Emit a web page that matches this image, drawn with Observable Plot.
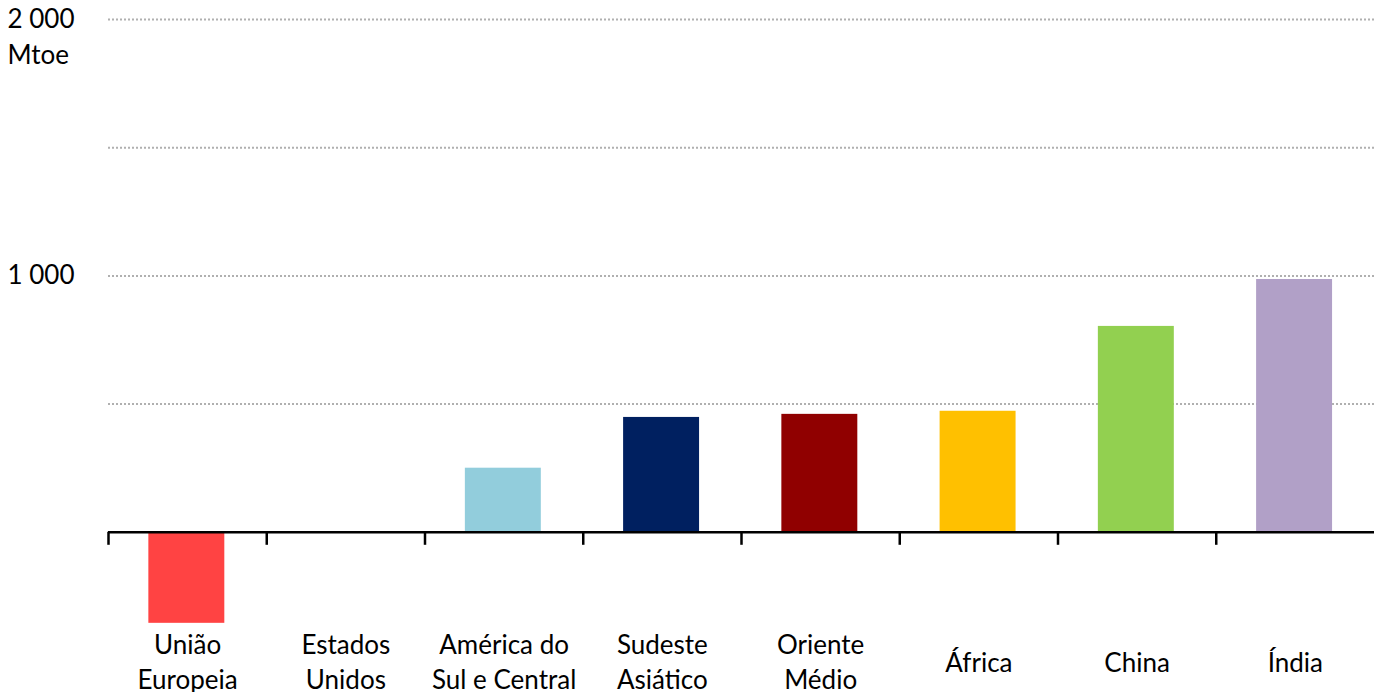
<!DOCTYPE html>
<html>
<head>
<meta charset="utf-8">
<script src="https://cdn.jsdelivr.net/npm/d3@7"></script>
<script src="https://cdn.jsdelivr.net/npm/@observablehq/plot@0.6"></script>
<style>
  html, body { margin: 0; padding: 0; background: #fff; }
  #chart { width: 1374px; height: 692px; }
</style>
</head>
<body>
<div id="chart"></div>
<script>
const categories = ["União\nEuropeia", "Estados\nUnidos", "América do\nSul e Central", "Sudeste\nAsiático", "Oriente\nMédio", "África", "China", "Índia"];
const values = [-355, 0, 250, 448, 460, 472, 803, 986];
const colors = ["#FF4343", "#7F7F7F", "#92CDDC", "#002060", "#900000", "#FFC000", "#92D050", "#B1A0C7"];
const gridValues = [500, 1000, 1500, 2000];
const tickValues = [1000, 2000];
const tickLabels = ["1 000", "2 000"];
const unitLabel = "Mtoe";

const data = categories.map((c, i) => ({i, c, v: values[i], color: colors[i]}));
const boundaries = d3.range(categories.length);
const ticks = tickValues.map((t, k) => ({t, label: tickLabels[k]}));

const font = "Lato, 'Open Sans', sans-serif";

const chart = Plot.plot({
  width: 1374,
  height: 692,
  marginLeft: 108,
  marginRight: 0,
  marginTop: 19,
  marginBottom: 32,
  style: {fontFamily: font, fontSize: "26px", color: "#000", background: "#fff"},
  x: {type: "linear", domain: [0, categories.length], axis: null},
  y: {domain: [-500, 2000], axis: null},
  marks: [
    Plot.ruleY(gridValues, {y: d => d, stroke: "#b0b0b0", strokeWidth: 2, strokeDasharray: "2,2"}),
    Plot.rectY(data, {x1: d => d.i + 0.255, x2: d => d.i + 0.735, y1: 0, y2: "v", fill: "color"}),
    Plot.ruleY([0], {stroke: "#000", strokeWidth: 2.5}),
    Plot.ruleX(boundaries, {x: d => d, y1: 0, y2: 0, insetBottom: -13, stroke: "#000", strokeWidth: 2.5}),
    Plot.text(data, {x: d => d.i + 0.5, text: "c", frameAnchor: "bottom", lineAnchor: "middle", lineHeight: 1.35, dy: 0, fill: "#000"}),
    Plot.text(ticks, {y: "t", text: "label", frameAnchor: "left", textAnchor: "start", dx: -101, fill: "#000"}),
    Plot.text([unitLabel], {y: tickValues[tickValues.length - 1], text: d => d, frameAnchor: "left", textAnchor: "start", dx: -101, dy: 36, fill: "#000"})
  ]
});
document.getElementById("chart").appendChild(chart);
</script>
</body>
</html>
